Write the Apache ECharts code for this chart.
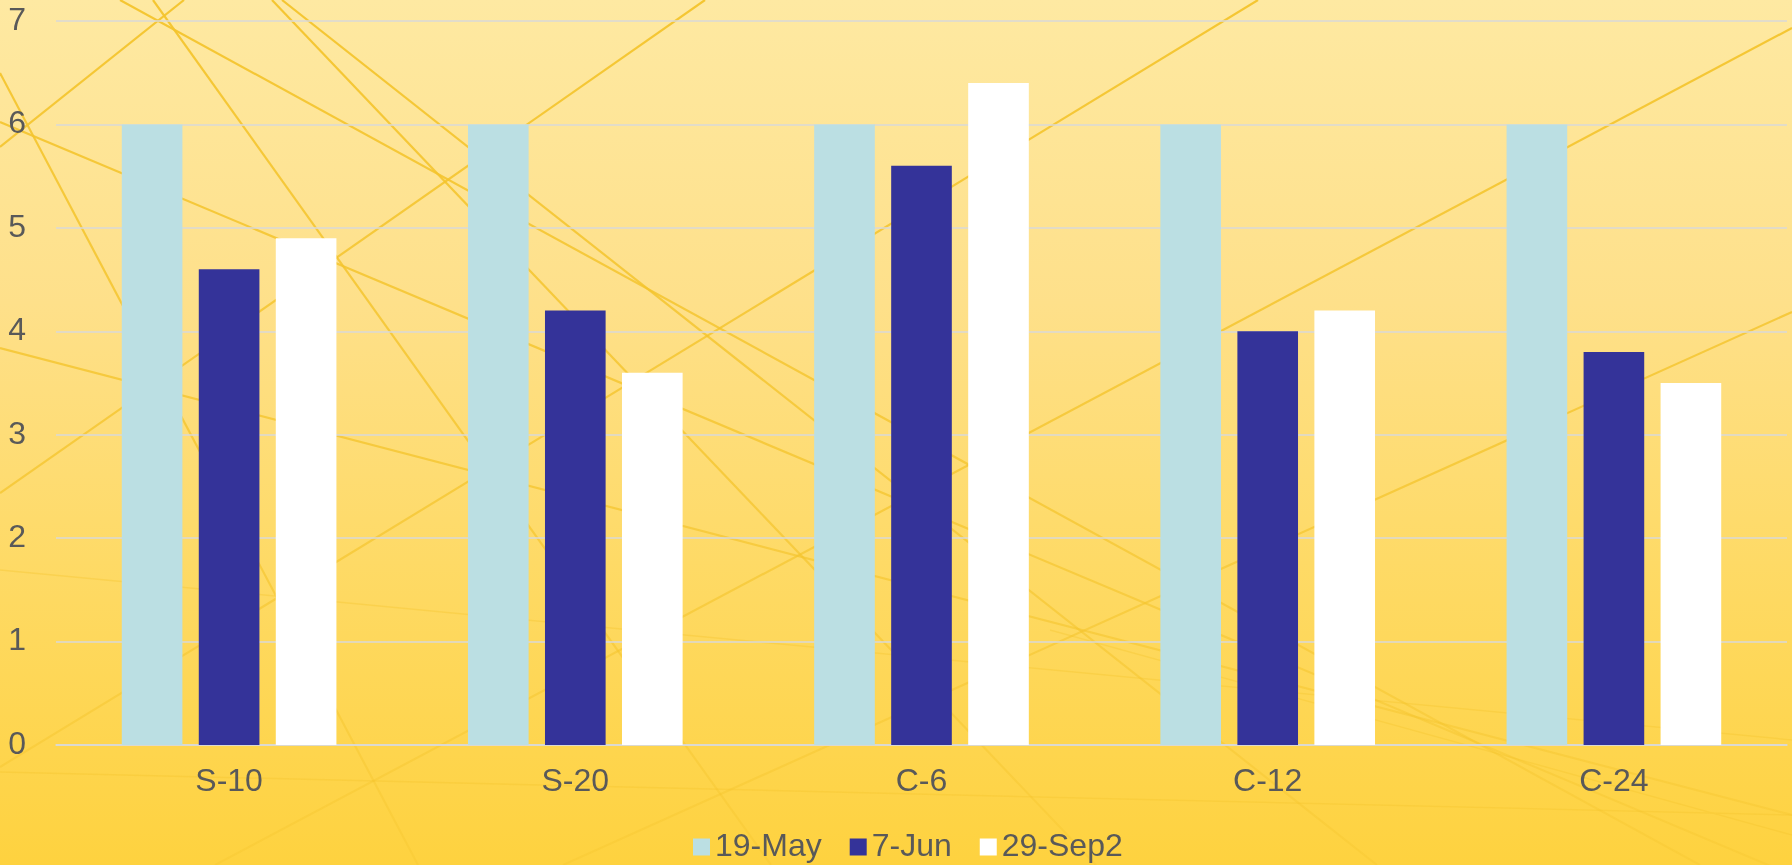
<!DOCTYPE html>
<html>
<head>
<meta charset="utf-8">
<script src="https://cdn.jsdelivr.net/npm/echarts@6/dist/echarts.min.js"></script>
<style>
  html, body { margin: 0; padding: 0; width: 1792px; height: 865px; overflow: hidden; }
  #bg { position: absolute; left: 0; top: 0; width: 1792px; height: 865px;
        background: linear-gradient(to bottom, #FEE9A2 0%, #FEE08A 35%, #FEDA66 65%, #FED23F 100%); }
  #bg svg { position: absolute; left: 0; top: 0; }
  #chart { position: absolute; left: 0; top: 0; width: 1792px; height: 865px; }
</style>
</head>
<body>
<div id="bg">
  <svg width="1792" height="865" viewBox="0 0 1792 865">
    <defs>
      <linearGradient id="fade" gradientUnits="userSpaceOnUse" x1="0" y1="0" x2="0" y2="865">
        <stop offset="0" stop-color="#F4C42C" stop-opacity="0.95"/>
        <stop offset="0.55" stop-color="#F4C42C" stop-opacity="0.75"/>
        <stop offset="1" stop-color="#F4C42C" stop-opacity="0.3"/>
      </linearGradient>
    </defs>
    <g stroke="url(#fade)" stroke-width="2.2" fill="none">
      <line x1="0" y1="767" x2="1258" y2="0"/>
      <line x1="0" y1="493" x2="705" y2="0"/>
      <line x1="215" y1="865" x2="1792" y2="28"/>
      <line x1="563" y1="865" x2="1792" y2="312"/>
      <line x1="282" y1="0" x2="1377" y2="865"/>
      <line x1="272" y1="0" x2="1096" y2="865"/>
      <line x1="120" y1="0" x2="1700" y2="865"/>
      <line x1="0" y1="122" x2="1792" y2="875"/>
      <line x1="153" y1="0" x2="771" y2="865"/>
      <line x1="0" y1="348" x2="1792" y2="815"/>
      <line x1="0" y1="73" x2="418" y2="865"/>
      <line x1="0" y1="147" x2="184" y2="0"/>
    </g>
    <g stroke="#F4C42C" stroke-width="1.5" fill="none" opacity="0.35">
      <line x1="0" y1="570" x2="1792" y2="740"/>
      <line x1="0" y1="772" x2="1792" y2="815"/>
      <line x1="1050" y1="630" x2="1792" y2="835"/>
    </g>
  </svg>
</div>
<div id="chart"></div>
<script>
const categories = ['S-10', 'S-20', 'C-6', 'C-12', 'C-24'];
const seriesNames = ['19-May', '7-Jun', '29-Sep2'];
const may19 = [6, 6, 6, 6, 6];
const jun7 = [4.6, 4.2, 5.6, 4.0, 3.8];
const sep29 = [4.9, 3.6, 6.4, 4.2, 3.5];
const yTicks = [0, 1, 2, 3, 4, 5, 6, 7];

const colors = ['#BBDFE3', '#343399', '#FFFFFF'];
const font = '"Liberation Sans", Arial, sans-serif';
const textColor = '#595959';

const chart = echarts.init(document.getElementById('chart'), null, { renderer: 'canvas' });
const dataSets = [may19, jun7, sep29];

chart.setOption({
  backgroundColor: 'transparent',
  animation: false,
  textStyle: { fontFamily: font },
  legend: {
    data: seriesNames,
    left: 688,
    top: 826,
    icon: 'rect',
    itemWidth: 17,
    itemHeight: 17,
    itemGap: 28,
    textStyle: { fontSize: 32, color: textColor, fontFamily: font }
  },
  grid: { left: 56, right: 5, top: 21, bottom: 120, containLabel: false },
  xAxis: {
    type: 'category',
    data: categories,
    axisLine: { lineStyle: { color: '#D9D9D9', width: 1.5 } },
    axisTick: { show: false },
    axisLabel: { fontSize: 32, color: textColor, margin: 21, fontFamily: font }
  },
  yAxis: {
    type: 'value',
    min: yTicks[0],
    max: yTicks[yTicks.length - 1],
    interval: 1,
    axisLine: { show: false },
    axisTick: { show: false },
    splitLine: { lineStyle: { color: '#D9D9D9', width: 1.5 } },
    axisLabel: { fontSize: 32, color: textColor, margin: 30, fontFamily: font }
  },
  series: seriesNames.map((name, i) => ({
    name: name,
    type: 'bar',
    data: dataSets[i],
    barGap: '27%',
    barCategoryGap: '38%',
    itemStyle: { color: colors[i] }
  }))
});
</script>
</body>
</html>
